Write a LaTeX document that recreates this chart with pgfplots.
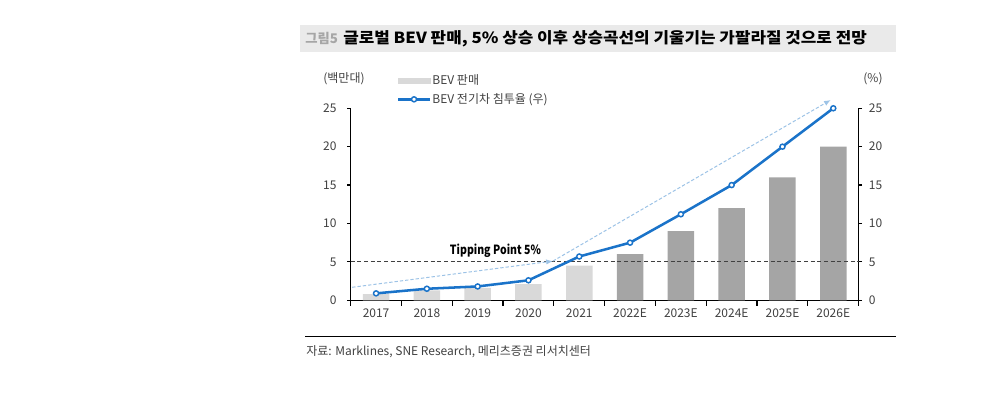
\documentclass[border=0pt]{standalone}
\usepackage{fontspec}
\setmainfont{Noto Sans CJK KR}
\usepackage{pgfplots}
\pgfplotsset{compat=1.18}
\usetikzlibrary{arrows.meta}
\definecolor{lbar}{HTML}{D9D9D9}
\definecolor{dbar}{HTML}{A5A5A5}
\definecolor{titlebg}{HTML}{EAEAEA}
\definecolor{figc}{HTML}{A6A6A6}
\definecolor{bline}{HTML}{1A73C9}
\definecolor{arr}{HTML}{9DC3E6}
\definecolor{txt}{HTML}{404040}
\pgfplotsset{
  common/.style={
    scale only axis, width=381pt, height=144pt,
    at={(263pt,-225.2pt)}, anchor=south west,
    xmin=-0.5, xmax=9.5, ymin=0, ymax=25,
    ytick={0,5,...,25},
    tick align=outside,
    major tick length=2.6pt,
    axis line style={black, line width=0.9pt},
    tick style={black, line width=0.9pt},
    /pgf/number format/assume math mode=true,
    tick label style={font=\fontsize{9}{11}\selectfont, text=txt},
  }
}
\begin{document}
\begin{tikzpicture}
\useasboundingbox (0,0) rectangle (741pt,-294.75pt);
\fill[titlebg] (225pt,-18.75pt) rectangle (672pt,-39.2pt);
\node[anchor=west, font=\bfseries\fontsize{10}{12}\selectfont, text=figc, inner sep=0pt] at (228.75pt,-29pt) {그림5};
\node[anchor=west, font=\bfseries\fontsize{11.5}{13}\selectfont, inner sep=0pt] at (257.25pt,-29pt) {\scalebox{1.1}[1]{글로벌 BEV 판매, 5\% 상승 이후 상승곡선의 기울기는 가팔라질 것으로 전망}};
\node[font=\fontsize{9}{11}\selectfont, text=txt] at (258pt,-59.25pt) {(백만대)};
\node[font=\fontsize{9}{11}\selectfont, text=txt] at (654.75pt,-59.25pt) {(\%)};
\draw[black, line width=0.9pt] (228.75pt,-252.5pt) -- (672pt,-252.5pt);
\node[anchor=west, font=\fontsize{9}{11}\selectfont, text=txt, inner sep=0pt] at (229.5pt,-264pt) {자료: Marklines, SNE Research, 메리츠증권 리서치센터};

\begin{axis}[common,
  axis y line*=left, axis x line*=bottom,
  xtick={0,...,9},
  xticklabels={2017,2018,2019,2020,2021,2022E,2023E,2024E,2025E,2026E},
  major x tick style={draw=none},
  minor xtick={-0.5,0.5,...,9.5},
  minor tick length=4pt,
  minor x tick style={black, line width=0.9pt},
  yticklabel style={xshift=-4.5pt},
]
\addplot[ybar, bar width=19.9pt, fill=lbar, draw=none] coordinates {(0,0.8) (1,1.3) (2,1.6) (3,2.1) (4,4.5)};
\addplot[ybar, bar width=19.9pt, fill=dbar, draw=none] coordinates {(5,6.0) (6,9.0) (7,12.0) (8,16.0) (9,20.0)};
\end{axis}

\begin{axis}[common,
  axis y line*=right, axis x line=none,
  yticklabel style={xshift=1.5pt},
  clip=false,
  legend style={draw=none, fill=none, inner sep=0pt, anchor=west, at={(0.0906,1.095)},
    font=\fontsize{9}{11}\selectfont, text=txt, row sep=3pt,
    nodes={inner sep=1pt, anchor=west}},
  legend cell align=left,
]
\addlegendimage{legend image code/.code={\fill[lbar] (0pt,-2pt) rectangle (23.7pt,2pt);}}
\addlegendentry{BEV 판매}
\addplot[forget plot, dash pattern=on 3pt off 2pt, line width=0.75pt, color=txt] coordinates {(-0.5,5) (9.5,5)};
\addplot[forget plot, dash pattern=on 2.5pt off 1.5pt, line width=0.75pt, color=arr, -{Latex[length=5pt,width=4pt]}] coordinates {(-0.47,1.69) (3.48,5.1)};
\addplot[forget plot, dash pattern=on 2.5pt off 1.5pt, line width=0.75pt, color=arr, -{Latex[length=5pt,width=4pt]}] coordinates {(3.48,5.1) (8.95,26.08)};
\addplot[bline, line width=1.9pt, mark=*, mark size=1.9pt,
  mark options={fill=white, draw=bline, line width=1.1pt},
  legend image code/.code={\draw[mark repeat=2, mark phase=2] plot coordinates {(0pt,0pt) (11.85pt,0pt) (23.7pt,0pt)};}]
  coordinates {(0,0.9) (1,1.5) (2,1.8) (3,2.6) (4,5.7) (5,7.5) (6,11.2) (7,15.0) (8,20.0) (9,25.0)};
\addlegendentry{BEV 전기차 침투율 (우)}
\node[font=\bfseries\fontsize{9.5}{11}\selectfont, text=black] at (axis cs:2.35,6.46) {\scalebox{0.83}[1]{Tipping Point 5\%}};
\end{axis}
\end{tikzpicture}
\end{document}
